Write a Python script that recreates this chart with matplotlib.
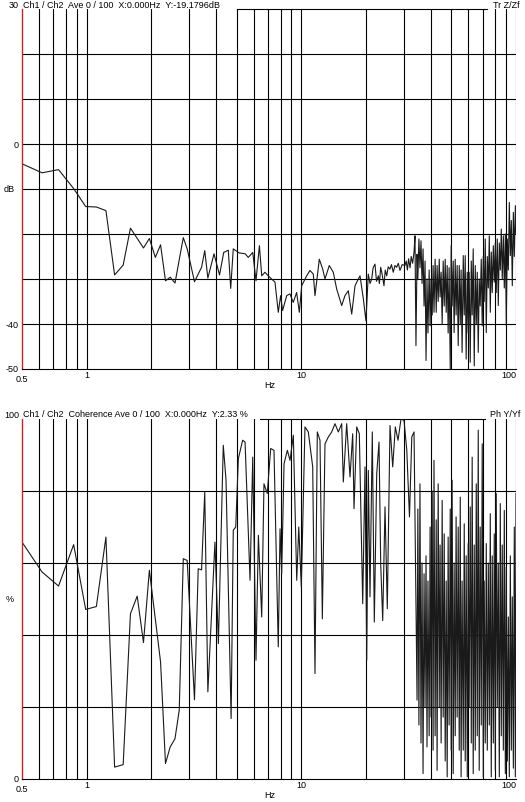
import matplotlib
matplotlib.use('Agg')
import matplotlib.pyplot as plt

plt.rcParams['font.family'] = ['Liberation Sans', 'DejaVu Sans']

# transfer function magnitude (dB), 0.5 - 20 Hz
tr_freq_lo = [0.50, 0.62, 0.74, 0.87, 0.99, 1.11, 1.23, 1.35, 1.48, 1.60, 1.84, 1.96, 2.09, 2.21,
              2.33, 2.45, 2.58, 2.82, 2.94, 3.18, 3.43, 3.55, 3.67, 3.92, 4.16, 4.35, 4.57, 4.69,
              4.82, 5.13, 5.48, 5.66, 5.94, 6.15, 6.38, 6.54, 6.77, 7.02, 7.28, 7.54, 7.81, 8.01,
              8.18, 8.55, 8.85, 9.17, 9.51, 9.79, 10.04, 10.59, 10.97, 11.37, 11.58, 12.13, 12.58,
              12.89, 13.50, 14.09, 14.61, 15.42, 15.97, 16.55, 17.17, 17.79, 18.43, 18.77, 19.45,
              20.0]
tr_db_lo = [-4.4, -6.4, -5.7, -9.9, -13.9, -14.0, -14.8, -29.1, -26.9, -18.7, -23.1, -21.0, -25.2,
            -22.4, -30.4, -29.6, -30.9, -20.8, -23.3, -30.6, -27.4, -23.7, -29.8, -24.4, -29.1,
            -24.1, -23.6, -32.1, -23.3, -24.2, -24.4, -25.2, -24.1, -30.4, -22.6, -29.3, -28.5,
            -29.3, -30.0, -30.7, -37.4, -33.7, -37.0, -33.7, -33.3, -35.2, -33.0, -37.4, -31.5,
            -29.3, -28.1, -28.9, -33.7, -25.6, -27.8, -30.0, -27.0, -28.5, -32.2, -35.9, -33.7,
            -32.6, -37.8, -31.5, -30.0, -29.3, -34.4, -39.3]

# 20 - 34 Hz
tr_freq_mid = [20.51, 20.9, 21.27, 21.6, 22.04, 22.4, 22.85, 23.1, 23.43, 23.8, 24.27, 24.6, 24.99,
               25.4, 25.88, 26.3, 26.81, 27.3, 27.80, 28.3, 28.81, 29.5, 30.39, 30.8, 31.2, 31.6,
               32.1, 32.5, 33.0, 33.5, 33.84]
tr_db_mid = [-28.9, -31.0, -30.0, -27.5, -26.7, -30.5, -29.3, -31.0, -27.4, -29.0, -31.5, -28.0,
             -29.3, -27.3, -27.8, -26.8, -28.5, -27.0, -27.4, -26.5, -28.1, -26.8, -27.0, -26.0,
             -28.0, -25.5, -27.5, -25.0, -26.5, -24.0, -20.4]

# 34 - 100 Hz, both panels share these frequencies
dense_freq = [34.2, 34.6, 34.9, 35.3, 35.7, 36.1, 36.5, 36.9, 37.3, 37.7,
              38.1, 38.5, 38.9, 39.4, 39.8, 40.2, 40.7, 41.1, 41.5, 42.0,
              42.5, 42.9, 43.4, 43.9, 44.3, 44.8, 45.3, 45.8, 46.3, 46.8,
              47.3, 47.8, 48.3, 48.8, 49.4, 49.9, 50.4, 51.0, 51.5, 52.1,
              52.6, 53.2, 53.8, 54.4, 55.0, 55.5, 56.1, 56.8, 57.4, 58.0,
              58.6, 59.3, 59.9, 60.5, 61.2, 61.9, 62.5, 63.2, 63.9, 64.6,
              65.3, 66.0, 66.7, 67.4, 68.1, 68.9, 69.6, 70.4, 71.1, 71.9,
              72.7, 73.5, 74.3, 75.1, 75.9, 76.7, 77.5, 78.4, 79.2, 80.1,
              80.9, 81.8, 82.7, 83.6, 84.5, 85.4, 86.3, 87.3, 88.2, 89.2,
              90.1, 91.1, 92.1, 93.1, 94.1, 95.1, 96.1, 97.2, 98.2, 99.3,
              100.0]
tr_db_hi = [-44.8, -24.5, -30.0, -21.1, -27.5, -21.5, -31.0, -23.3, -36.0, -26.0,
            -48.1, -30.0, -42.0, -28.0, -40.4, -30.0, -38.0, -27.0, -37.4, -25.6,
            -37.4, -27.0, -35.0, -25.6, -34.0, -28.5, -40.0, -26.0, -36.0, -25.6,
            -37.4, -27.0, -42.0, -27.5, -50.0, -22.6, -36.0, -26.0, -41.9, -25.6,
            -38.0, -27.0, -44.8, -27.0, -40.0, -28.0, -46.3, -24.8, -38.0, -24.8,
            -47.8, -28.5, -42.0, -28.5, -48.5, -26.0, -38.0, -23.3, -49.3, -27.0,
            -40.0, -28.5, -46.3, -30.0, -36.0, -25.6, -40.4, -25.0, -35.0, -21.1,
            -41.9, -25.0, -32.0, -20.4, -37.4, -24.0, -33.0, -22.6, -30.7, -22.0,
            -33.0, -21.1, -35.9, -22.0, -28.0, -18.9, -30.0, -20.4, -32.0, -20.0,
            -40.4, -21.1, -28.0, -13.0, -24.8, -17.0, -31.5, -15.2, -25.0, -13.7,
            -20.0]

# coherence (%), 0.5 - 34 Hz
coh_freq_lo = [0.50, 0.62, 0.74, 0.87, 0.99, 1.11, 1.23, 1.35, 1.48, 1.60, 1.72, 1.84, 1.96, 2.21,
               2.33, 2.45, 2.58, 2.70, 2.82, 2.94, 3.18, 3.31, 3.43, 3.55, 3.67, 3.96, 4.11, 4.33,
               4.46, 4.71, 4.82, 4.95, 5.09, 5.33, 5.47, 5.77, 5.94, 6.15, 6.31, 6.54, 6.70, 6.94,
               7.20, 7.46, 7.81, 7.96, 8.10, 8.31, 8.61, 8.86, 9.18, 9.52, 9.73, 10.0, 10.40, 10.78,
               11.30, 11.58, 11.87, 12.22, 12.53, 12.89, 13.36, 13.85, 14.35, 14.87, 15.42, 15.69,
               16.27, 16.86, 17.35, 17.60, 18.12, 18.63, 19.32, 19.80, 20.17, 20.52, 20.89, 21.41,
               21.88, 22.45, 23.01, 23.43, 23.94, 24.54, 25.15, 25.89, 26.65, 27.41, 28.21, 29.13,
               30.09, 31.0, 31.9, 32.7, 33.5]
coh_pct_lo = [65.8, 57.5, 53.6, 65.1, 47.1, 47.9, 67.2, 3.3, 4.0, 45.9, 50.8, 37.9, 58.0, 32.5,
              4.3, 8.9, 11.2, 19.1, 61.2, 60.7, 22.0, 58.4, 58.1, 79.7, 24.2, 65.8, 37.6, 92.7,
              83.0, 16.8, 69.1, 70.0, 89.0, 94.1, 93.6, 55.2, 89.4, 33.0, 67.7, 45.0, 82.0, 79.3,
              91.8, 91.3, 36.7, 69.5, 57.0, 87.6, 91.3, 88.5, 95.5, 55.2, 70.0, 53.3, 97.8, 96.4,
              86.7, 29.3, 96.4, 94.1, 44.5, 93.1, 95.0, 96.4, 98.7, 96.4, 98.7, 82.5,
              98.7, 83.9, 95.9, 75.1, 97.8, 95.9, 48.7, 86.7, 33.0, 85.7, 50.6, 96.4,
              43.6, 84.8, 93.6, 59.8, 44.0, 75.6, 47.3, 98.2, 86.7, 97.8, 94.1, 100.0,
              99.6, 91.3, 72.8, 95.0, 96.4]
# 34 - 100 Hz
coh_pct_hi = [49.6, 21.9, 75.0, 15.0, 82.0, 10.0, 60.0, 1.5, 57.0, 20.0,
              62.0, 8.9, 55.0, 12.0, 70.0, 17.2, 80.0, 8.0, 88.5, 12.0,
              72.0, 2.4, 82.0, 20.0, 65.0, 10.0, 77.4, 17.2, 68.1, 5.0,
              55.0, 0.6, 67.2, 15.0, 75.0, 8.0, 83.0, 1.5, 60.0, 12.0,
              72.8, 17.2, 70.0, 8.0, 78.3, 0.6, 55.0, 8.0, 70.9, 5.0,
              62.0, 0.6, 65.4, 20.0, 75.6, 10.0, 89.4, 1.5, 65.0, 8.0,
              82.0, 12.0, 96.9, 2.4, 70.0, 15.0, 93.1, 0.6, 55.0, 10.0,
              65.4, 8.0, 60.0, 15.0, 73.7, 0.6, 62.0, 10.0, 68.1, 2.4,
              79.3, 20.0, 60.0, 0.6, 76.5, 12.0, 65.0, 8.0, 74.6, 1.5,
              58.9, 5.0, 45.0, 0.6, 62.0, 8.0, 50.6, 3.0, 70.0, 0.6,
              79.3]

x_major = [1, 10, 100]
x_minor = [0.6, 0.7, 0.8, 0.9, 2, 3, 4, 5, 6, 7, 8, 9, 20, 30, 40, 50, 60, 70, 80, 90]

W, H = 525, 803
fig = plt.figure(figsize=(W / 100, H / 100), dpi=100)
fig.patch.set_facecolor('white')


def setup(ax, ylim, ygrid, ylabels, title, right_title, line_span):
    ax.set_xscale('log')
    ax.set_xlim(0.5, 100)
    ax.set_ylim(*ylim)
    ax.set_xticks(x_major)
    ax.set_xticks(x_minor, minor=True)
    ax.set_yticks(ygrid)
    ax.tick_params(which='both', length=0, labelbottom=False, labelleft=False)
    ax.grid(True, which='both', color='black', lw=0.8)
    ax.set_axisbelow(True)
    for s in ['top', 'right']:
        ax.spines[s].set_visible(False)
    ax.spines['bottom'].set_color('black')
    ax.spines['bottom'].set_linewidth(0.8)
    ax.spines['left'].set_color('#cc2222')
    ax.spines['left'].set_linewidth(1.0)
    # top frame line is broken where the header texts sit
    ax.plot(line_span, [1, 1], transform=ax.transAxes, color='black', lw=0.8, clip_on=False)

    yt = ax.get_yaxis_transform()
    for v, lab, va in ylabels:
        ax.text(-0.006, v, lab, transform=yt, ha='right', va=va, fontsize=6.5)
    xt = ax.get_xaxis_transform()
    ax.text(0.5, -10 / 360, '0.5', transform=xt, ha='center', va='center', fontsize=6.5)
    for v in x_major:
        ax.text(v, -6 / 360, str(v), transform=xt, ha='center' if v < 100 else 'right',
                va='center', fontsize=6.5)
    ax.text(0.502, -16 / 360, 'Hz', transform=ax.transAxes, ha='center', va='center', fontsize=6.5)
    ax.text(0.002, 1 + 5 / 360, title, transform=ax.transAxes, ha='left', va='center', fontsize=6.5)
    ax.text(1.008, 1 + 5 / 360, right_title, transform=ax.transAxes, ha='right', va='center',
            fontsize=6.5)


ax1 = fig.add_axes([22 / W, 1 - 370 / H, 494 / W, 360 / H])
setup(ax1, (-50, 30), [-40, -30, -20, -10, 0, 10, 20],
      [(30, '30', 'bottom'), (0, '0', 'center'), (-40, '-40', 'center'), (-50, '-50', 'center')],
      'Ch1 / Ch2  Ave 0 / 100  X:0.000Hz  Y:-19.1796dB', 'Tr Z/Zf', [0.435, 0.941])
ax1.plot(tr_freq_lo + tr_freq_mid + dense_freq, tr_db_lo + tr_db_mid + tr_db_hi,
         color='#1a1a1a', lw=0.8)
fig.text(9 / W, 1 - 190 / H, 'dB', ha='center', va='center', fontsize=6.5)

ax2 = fig.add_axes([22 / W, 1 - 780 / H, 494 / W, 360 / H])
setup(ax2, (0, 100), [20, 40, 60, 80],
      [(100, '100', 'bottom'), (0, '0', 'center')],
      'Ch1 / Ch2  Coherence Ave 0 / 100  X:0.000Hz  Y:2.33 %', 'Ph Y/Yf', [0.482, 0.937])
ax2.plot(coh_freq_lo + dense_freq, coh_pct_lo + coh_pct_hi, color='#1a1a1a', lw=0.8)
fig.text(10 / W, 1 - 600 / H, '%', ha='center', va='center', fontsize=6.5)

fig.savefig('out.png', dpi=100)
